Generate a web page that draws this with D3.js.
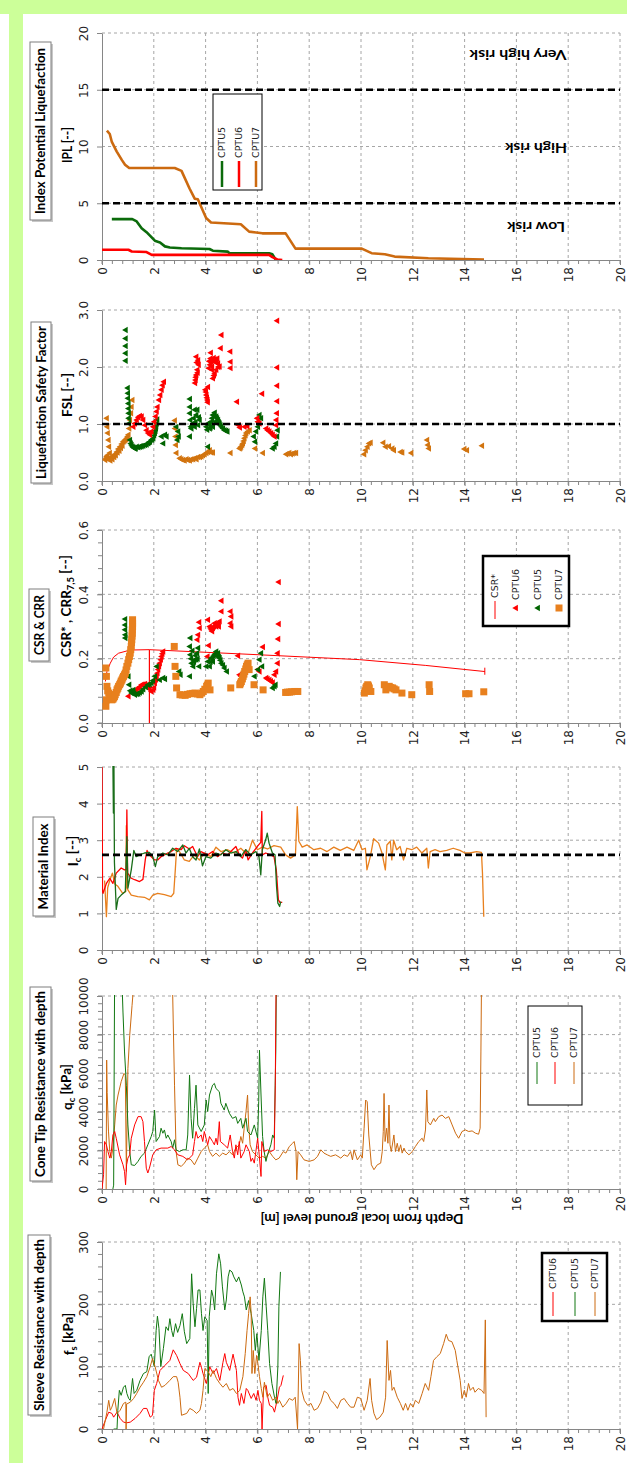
<!DOCTYPE html>
<html>
<head>
<meta charset="utf-8">
<script src="https://cdn.jsdelivr.net/npm/d3@7"></script>
<style>
body { margin: 0; background: #fff; }
svg { display: block; }
</style>
</head>
<body>
<svg id="chart" width="627" height="1467"></svg>
<script>
// depth axis shared by all six panels
const depthTicks = d3.range(0, 21, 2);

// ---- IPL (index potential liquefaction) ----
const iplTicks = [0, 5, 10, 15, 20];
const iplCptu5 = [[0.38,3.6],[1.17,3.6],[1.34,3.4],[1.53,2.8],[1.72,2.45],[2.04,1.7],[2.24,1.55],[2.43,1.2],[2.62,1.1],[3.07,1.03],[4.15,0.97],[4.28,0.82],[4.85,0.74],[4.92,0.6],[6.45,0.6],[6.58,0.5],[6.7,0.05]];
const iplCptu6 = [[0,0.9],[1.02,0.9],[1.15,0.75],[1.72,0.7],[1.92,0.45],[6.45,0.45],[6.58,0.25],[6.77,0.05],[6.96,0]];
const iplCptu7 = [[0.19,11.4],[0.3,11.1],[0.38,10.4],[0.57,9.55],[0.77,8.8],[0.89,8.4],[1.05,8.1],[2.81,8.1],[3.07,7.85],[3.38,6.3],[3.58,5.4],[3.7,5.35],[4.02,3.7],[4.21,3.3],[5.04,3.2],[5.36,3.15],[5.68,2.5],[6.19,2.35],[7.09,2.35],[7.47,1.0],[10.03,1.0],[10.41,0.6],[10.92,0.5],[11.3,0.3],[12.6,0.15],[14.75,0.05]];
const iplLimits = [5, 15];

// ---- FSL (safety factor) ----
const fslTicks = [0, 1, 2, 3];
const fslCptu5 = [[0.92,2.65],[0.92,2.5],[0.92,2.37],[0.92,2.24],[0.92,2.11],[1.0,1.63],[1.01,1.54],[1.01,1.45],[1.03,1.36],[1.03,1.27],[1.04,1.19],[1.04,1.1],[1.05,1.01],[1.09,0.72],[1.12,0.66],[1.15,0.63],[1.19,0.6],[1.22,0.59],[1.25,0.58],[1.28,0.57],[1.31,0.57],[1.35,0.6],[1.41,0.59],[1.47,0.6],[1.5,0.61],[1.54,0.61],[1.6,0.62],[1.67,0.63],[1.73,0.64],[1.79,0.66],[1.82,0.68],[1.86,0.69],[1.92,0.72],[1.95,0.73],[1.99,0.75],[2.02,0.8],[2.05,0.84],[2.07,0.88],[2.09,0.92],[2.1,0.96],[2.12,1.01],[2.14,1.08],[2.31,0.78],[2.37,0.66],[2.44,0.81],[2.5,0.78],[2.88,0.95],[2.95,0.87],[2.97,0.78],[2.92,0.72],[3.4,1.44],[3.4,1.3],[3.4,1.19],[3.42,1.07],[3.44,0.95],[3.4,0.78],[3.46,0.92],[3.5,0.98],[3.53,1.01],[3.55,1.1],[3.59,1.25],[3.59,0.95],[3.62,1.03],[3.65,1.16],[3.69,1.25],[3.72,0.98],[3.75,1.12],[3.78,1.07],[4.04,0.95],[4.07,0.9],[4.1,1.01],[4.1,0.6],[4.17,0.98],[4.17,0.92],[4.2,0.94],[4.23,1.04],[4.26,1.1],[4.29,1.16],[4.29,0.95],[4.33,1.15],[4.36,1.2],[4.38,1.04],[4.42,1.13],[4.45,1.1],[4.49,1.07],[4.52,1.03],[4.55,1.01],[4.58,0.98],[4.62,0.95],[4.68,0.92],[4.74,0.89],[4.8,0.88],[4.85,0.87],[5.87,0.78],[5.92,0.69],[5.96,0.87],[6.03,0.95],[6.05,1.04],[6.09,1.16],[6.15,1.1],[6.6,0.57],[6.67,0.6],[6.73,0.66],[6.77,0.78],[6.79,0.89]];
const fslCptu6 = [[1.22,0.95],[1.28,1.01],[1.35,1.07],[1.41,1.12],[1.47,1.14],[1.54,1.13],[1.6,1.07],[1.67,0.98],[1.73,0.89],[1.79,0.84],[1.86,0.81],[1.92,0.87],[1.99,0.95],[2.03,1.04],[2.08,1.13],[2.12,1.22],[2.15,1.3],[2.21,1.42],[2.26,1.51],[2.31,1.6],[2.35,1.68],[2.4,1.74],[3.65,2.18],[3.72,2.12],[3.74,2.04],[3.67,2.08],[3.69,1.95],[3.7,1.9],[3.65,1.86],[3.63,1.82],[3.62,1.77],[3.6,1.72],[4.0,1.6],[4.02,1.56],[4.04,1.51],[4.06,1.46],[4.08,1.42],[4.09,1.38],[4.1,1.65],[4.13,1.98],[4.15,2.1],[4.18,2.04],[4.2,2.15],[4.23,2.09],[4.25,1.95],[4.26,2.01],[4.29,2.12],[4.32,2.16],[4.33,1.85],[4.36,2.13],[4.4,2.08],[4.42,2.11],[4.46,2.15],[4.49,2.06],[4.5,2.0],[4.55,2.01],[4.42,1.95],[4.36,1.89],[4.29,1.8],[4.21,2.25],[4.59,2.33],[4.62,2.56],[4.96,2.27],[4.97,2.09],[4.97,1.98],[5.22,1.39],[5.28,0.98],[5.33,0.94],[5.51,0.95],[5.62,0.96],[6.19,1.53],[6.0,1.1],[6.03,1.04],[6.09,1.01],[6.35,0.92],[6.41,0.89],[6.47,0.87],[6.54,0.84],[6.6,0.81],[6.67,0.78],[6.77,2.81],[6.77,1.99],[6.77,1.67],[6.77,1.4],[6.76,1.19],[6.74,1.07],[6.73,0.98]];
const fslCptu7 = [[0.19,1.1],[0.21,0.95],[0.23,0.84],[0.26,0.72],[0.28,0.6],[0.31,0.49],[0.19,0.43],[0.13,0.37],[0.16,0.4],[0.22,0.45],[0.25,0.38],[0.33,0.36],[0.35,0.42],[0.38,0.4],[0.41,0.38],[0.45,0.43],[0.48,0.42],[0.51,0.47],[0.54,0.45],[0.58,0.51],[0.61,0.5],[0.64,0.56],[0.68,0.53],[0.71,0.6],[0.74,0.58],[0.77,0.65],[0.8,0.62],[0.83,0.69],[0.87,0.7],[0.9,0.72],[0.93,0.73],[0.96,0.75],[1.0,0.78],[1.03,0.81],[1.06,0.92],[1.09,1.07],[1.13,1.19],[1.15,1.3],[1.18,1.42],[2.82,1.06],[2.83,0.92],[2.85,0.78],[2.86,0.63],[2.88,0.49],[3.01,0.4],[3.07,0.38],[3.14,0.37],[3.2,0.36],[3.27,0.38],[3.33,0.37],[3.4,0.36],[3.46,0.38],[3.53,0.38],[3.6,0.4],[3.66,0.38],[3.72,0.42],[3.79,0.42],[3.85,0.43],[3.91,0.45],[3.97,0.47],[4.04,0.49],[4.1,0.51],[4.14,0.52],[4.17,0.54],[4.23,0.5],[4.29,0.5],[4.97,0.49],[5.32,0.57],[5.35,0.58],[5.38,0.6],[5.42,0.63],[5.45,0.66],[5.48,0.7],[5.51,0.75],[5.55,0.8],[5.58,0.84],[5.64,0.87],[5.71,0.89],[5.92,0.57],[6.22,0.49],[7.12,0.47],[7.18,0.48],[7.24,0.49],[7.3,0.47],[7.37,0.48],[7.43,0.49],[7.5,0.49],[10.13,0.47],[10.19,0.54],[10.26,0.6],[10.32,0.66],[10.38,0.67],[10.87,0.67],[10.96,0.6],[11.09,0.61],[11.22,0.57],[11.28,0.54],[11.54,0.51],[11.6,0.5],[11.95,0.49],[12.56,0.72],[12.59,0.63],[12.63,0.57],[14.0,0.56],[14.1,0.54],[14.68,0.62]];
const fslLimit = 1.0;

// ---- CSR & CRR ----
const csrTicks = [0, 0.2, 0.4, 0.6];
const csrStar = [[0.13,0.129],[0.19,0.16],[0.32,0.186],[0.45,0.205],[0.64,0.217],[0.96,0.224],[1.22,0.227],[1.83,0.228],[6.09,0.212],[9.94,0.197],[12.5,0.179],[14.78,0.16]];
const csrWaterTable = [[1.83,0],[1.83,0.228]];
const csrEnd = [[14.78,0.15],[14.78,0.172]];
const crrCptu6 = [[1.03,0.083],[1.28,0.098],[1.35,0.104],[1.41,0.109],[1.47,0.113],[1.54,0.119],[1.6,0.12],[1.67,0.121],[1.73,0.118],[1.79,0.114],[1.85,0.105],[1.92,0.098],[1.99,0.103],[2.02,0.11],[2.05,0.124],[2.09,0.135],[2.12,0.145],[2.15,0.155],[2.18,0.166],[2.21,0.176],[2.24,0.186],[2.28,0.197],[2.31,0.207],[2.34,0.215],[2.37,0.222],[3.76,0.313],[3.78,0.295],[3.72,0.274],[3.69,0.259],[4.1,0.321],[4.17,0.3],[4.2,0.295],[4.23,0.29],[4.26,0.285],[4.29,0.295],[4.33,0.3],[4.36,0.31],[4.4,0.305],[4.42,0.3],[4.46,0.31],[4.49,0.305],[4.52,0.3],[4.55,0.316],[4.62,0.347],[4.62,0.38],[4.13,0.241],[4.08,0.207],[4.97,0.347],[5.0,0.331],[4.97,0.31],[5.0,0.3],[5.26,0.209],[5.32,0.15],[5.38,0.145],[6.03,0.166],[6.09,0.16],[6.22,0.236],[6.35,0.14],[6.4,0.137],[6.47,0.134],[6.53,0.13],[6.6,0.126],[6.67,0.15],[6.73,0.16],[6.79,0.186],[6.83,0.438],[6.83,0.308],[6.81,0.261],[6.79,0.217]];
const crrCptu5 = [[0.9,0.323],[0.9,0.305],[0.9,0.29],[0.91,0.274],[0.91,0.264],[1.03,0.145],[1.06,0.119],[1.1,0.1],[1.15,0.093],[1.19,0.095],[1.22,0.103],[1.25,0.092],[1.28,0.088],[1.35,0.09],[1.41,0.091],[1.47,0.095],[1.54,0.098],[1.6,0.105],[1.7,0.112],[1.79,0.119],[1.85,0.12],[1.92,0.124],[1.98,0.132],[2.05,0.145],[2.12,0.176],[2.24,0.134],[2.37,0.14],[2.44,0.137],[2.99,0.16],[3.04,0.15],[3.42,0.264],[3.4,0.238],[3.42,0.212],[3.45,0.2],[3.47,0.186],[3.5,0.225],[3.53,0.176],[3.56,0.19],[3.59,0.197],[3.62,0.21],[3.65,0.197],[3.68,0.217],[3.7,0.2],[3.72,0.233],[3.76,0.176],[3.4,0.145],[4.04,0.176],[4.1,0.191],[4.17,0.176],[4.2,0.19],[4.23,0.202],[4.26,0.2],[4.29,0.191],[4.32,0.208],[4.36,0.212],[4.39,0.215],[4.42,0.222],[4.46,0.21],[4.49,0.217],[4.52,0.205],[4.55,0.202],[4.58,0.195],[4.62,0.186],[4.68,0.18],[4.74,0.171],[4.83,0.16],[5.9,0.145],[6.03,0.166],[6.09,0.197],[6.15,0.217],[6.19,0.176],[6.6,0.109],[6.67,0.114],[6.71,0.119]];
const crrCptu7 = [[0.15,0.052],[0.17,0.072],[0.19,0.114],[0.17,0.145],[0.15,0.171],[0.22,0.1],[0.26,0.093],[0.3,0.088],[0.32,0.083],[0.35,0.078],[0.38,0.072],[0.42,0.074],[0.45,0.078],[0.48,0.082],[0.51,0.088],[0.55,0.095],[0.58,0.103],[0.61,0.108],[0.64,0.114],[0.68,0.119],[0.71,0.124],[0.74,0.13],[0.77,0.134],[0.8,0.14],[0.83,0.145],[0.87,0.15],[0.9,0.155],[0.93,0.165],[0.96,0.176],[1.0,0.186],[1.03,0.197],[1.06,0.207],[1.09,0.217],[1.11,0.228],[1.13,0.238],[1.14,0.25],[1.15,0.259],[1.16,0.27],[1.17,0.279],[1.17,0.29],[1.18,0.3],[1.18,0.31],[1.18,0.321],[2.79,0.238],[2.82,0.176],[2.85,0.145],[2.88,0.109],[3.01,0.088],[3.1,0.087],[3.21,0.086],[3.3,0.089],[3.4,0.091],[3.5,0.092],[3.59,0.093],[3.68,0.09],[3.78,0.088],[3.85,0.093],[3.91,0.098],[3.97,0.105],[4.04,0.114],[4.07,0.118],[4.1,0.124],[4.17,0.103],[4.97,0.109],[5.32,0.119],[5.35,0.124],[5.38,0.129],[5.42,0.137],[5.45,0.145],[5.48,0.152],[5.51,0.16],[5.55,0.168],[5.58,0.176],[5.61,0.181],[5.64,0.186],[5.68,0.166],[5.87,0.119],[6.22,0.103],[7.09,0.095],[7.16,0.096],[7.24,0.096],[7.32,0.097],[7.44,0.098],[7.56,0.098],[10.13,0.093],[10.16,0.1],[10.19,0.109],[10.22,0.114],[10.26,0.119],[10.29,0.115],[10.32,0.109],[10.38,0.098],[10.9,0.119],[10.96,0.103],[11.0,0.11],[11.09,0.114],[11.15,0.11],[11.22,0.109],[11.28,0.106],[11.35,0.103],[11.58,0.093],[11.96,0.088],[12.63,0.119],[12.65,0.098],[14.04,0.091],[14.17,0.091],[14.74,0.097]];

// ---- Ic (material index) ----
const icTicks = [0, 1, 2, 3, 4, 5];
const icCptu6 = [[0,5.0],[0.02,1.6],[0.04,1.55],[0.17,1.82],[0.3,1.96],[0.42,1.82],[0.55,2.1],[0.74,2.24],[0.87,2.19],[0.94,2.2],[0.96,3.83],[0.99,2.1],[1.13,1.96],[1.26,1.92],[1.45,1.87],[1.58,1.93],[1.67,2.46],[1.74,2.72],[1.83,2.6],[2.03,2.46],[2.15,2.46],[2.28,2.55],[2.41,2.6],[2.54,2.65],[2.67,2.69],[2.86,2.78],[3.05,2.74],[3.18,2.85],[3.37,2.76],[3.5,2.83],[3.69,2.55],[3.82,2.69],[4.08,2.6],[4.27,2.69],[4.46,2.55],[4.65,2.65],[4.85,2.6],[5.04,2.74],[5.17,2.83],[5.3,2.6],[5.42,2.51],[5.55,2.74],[5.64,2.46],[5.81,2.65],[6.0,2.83],[6.13,2.94],[6.17,3.79],[6.19,2.6],[6.32,2.65],[6.51,2.6],[6.64,2.55],[6.73,2.19],[6.81,1.37],[6.87,1.3],[6.96,1.3]];
const icCptu5 = [[0.42,5.2],[0.44,3.74],[0.46,5.2],[0.48,2.4],[0.55,1.11],[0.62,1.41],[0.74,1.5],[0.9,1.6],[0.96,3.1],[1.0,1.69],[1.13,2.19],[1.23,2.72],[1.32,2.55],[1.45,2.6],[1.64,2.65],[1.83,2.67],[1.96,2.55],[2.06,2.28],[2.15,2.55],[2.35,2.65],[2.54,2.6],[2.73,2.78],[2.92,2.69],[3.12,2.87],[3.24,2.65],[3.37,2.78],[3.5,2.55],[3.63,2.46],[3.76,2.76],[3.88,2.3],[4.01,2.55],[4.2,2.51],[4.4,2.65],[4.59,2.6],[4.78,2.74],[4.97,2.65],[5.17,2.69],[5.36,2.55],[5.55,2.74],[5.74,2.6],[5.94,2.69],[6.06,2.55],[6.13,2.05],[6.19,2.74],[6.32,3.01],[6.38,3.19],[6.45,2.92],[6.58,2.65],[6.68,2.6],[6.74,1.73],[6.79,1.28],[6.86,1.19],[6.9,1.32]];
const icCptu7 = [[0.1,1.9],[0.17,0.91],[0.22,1.7],[0.3,1.9],[0.4,2.1],[0.5,1.8],[0.6,1.75],[0.8,1.55],[0.92,1.6],[0.94,3.4],[0.97,1.7],[1.0,1.64],[1.13,1.5],[1.38,1.46],[1.64,1.44],[1.83,1.37],[1.96,1.5],[2.15,1.55],[2.41,1.51],[2.67,1.46],[2.77,1.55],[2.83,2.19],[2.88,2.76],[2.99,2.69],[3.18,2.46],[3.37,2.42],[3.56,2.6],[3.76,2.46],[3.95,2.65],[4.2,2.55],[4.4,2.81],[4.59,2.69],[4.85,2.74],[5.1,2.65],[5.36,2.78],[5.62,2.6],[5.81,3.0],[6.0,2.74],[6.19,2.81],[6.39,2.76],[6.64,2.85],[6.9,2.81],[7.09,2.6],[7.28,2.51],[7.47,2.6],[7.54,3.92],[7.6,2.97],[7.73,2.81],[7.92,2.87],[8.18,2.74],[8.44,2.78],[8.69,2.69],[8.95,2.81],[9.2,2.72],[9.46,2.81],[9.72,2.72],[9.91,3.0],[10.04,2.74],[10.17,2.78],[10.23,2.19],[10.36,2.55],[10.49,3.04],[10.68,2.92],[10.81,2.65],[10.94,2.19],[11.0,2.87],[11.13,2.97],[11.19,2.46],[11.26,3.0],[11.38,2.74],[11.51,2.83],[11.64,2.46],[11.77,2.78],[11.96,2.74],[12.15,2.81],[12.35,2.65],[12.54,2.78],[12.6,2.24],[12.67,2.69],[12.86,2.74],[13.05,2.69],[13.31,2.72],[13.56,2.78],[13.82,2.72],[14.01,2.65],[14.2,2.65],[14.46,2.69],[14.65,2.67],[14.69,2.1],[14.74,0.91]];
const icLimit = 2.6;

// ---- qc (cone tip resistance, kPa) ----
const qcTicks = [0, 2000, 4000, 6000, 8000, 10000];
const qcCptu5 = [[0.42,0],[0.45,200],[0.49,12000],[0.74,12000],[0.81,9170],[0.87,7100],[0.94,5380],[1.0,3320],[1.07,1940],[1.13,1255],[1.26,1220],[1.39,1430],[1.51,1690],[1.64,1860],[1.77,2290],[1.9,2720],[1.96,2980],[2.03,4090],[2.09,2460],[2.22,2720],[2.28,3150],[2.35,2890],[2.41,3060],[2.48,2630],[2.54,2800],[2.67,2460],[2.73,2120],[2.8,2550],[2.86,2030],[2.99,1940],[3.12,2030],[3.25,2030],[3.31,2800],[3.38,5900],[3.44,3660],[3.5,2630],[3.57,4180],[3.63,5380],[3.7,3320],[3.83,2980],[3.95,3320],[4.02,4610],[4.08,4010],[4.15,4870],[4.27,5380],[4.34,5470],[4.4,5210],[4.53,5040],[4.59,4440],[4.72,4090],[4.78,4440],[4.92,3920],[5.04,3660],[5.17,3750],[5.24,3400],[5.36,3660],[5.43,3150],[5.56,3660],[5.62,2980],[5.75,2800],[5.88,3320],[6.01,2630],[6.05,4520],[6.08,7190],[6.14,4870],[6.2,2720],[6.26,1940],[6.33,1430],[6.39,1770],[6.52,2290],[6.59,2800],[6.65,2630],[6.71,7100],[6.74,12000]];
const qcCptu6 = [[0,0],[0.06,740],[0.1,2460],[0.17,2290],[0.23,1940],[0.3,1600],[0.36,1940],[0.42,2800],[0.49,2980],[0.55,2630],[0.68,1770],[0.81,1255],[0.87,900],[0.91,220],[0.95,1255],[1.0,1600],[1.07,1770],[1.13,2630],[1.26,3320],[1.39,3750],[1.51,3750],[1.58,3490],[1.64,2460],[1.71,1080],[1.77,830],[1.83,1080],[1.96,1770],[2.09,2030],[2.28,2120],[2.54,2120],[2.67,2200],[2.8,2030],[2.93,1770],[3.12,1690],[3.31,1510],[3.5,1770],[3.57,2460],[3.63,2980],[3.7,2630],[3.83,2800],[3.89,2460],[3.95,2980],[4.08,2290],[4.15,2720],[4.27,2460],[4.34,2290],[4.4,2630],[4.46,2290],[4.53,3490],[4.57,2460],[4.72,2290],[4.85,2120],[4.95,2800],[5.04,1940],[5.11,1600],[5.17,2290],[5.24,1770],[5.3,2460],[5.36,1600],[5.49,1940],[5.56,2290],[5.69,1940],[5.75,1430],[5.81,1600],[5.88,1340],[5.94,1940],[6.01,2630],[6.07,1770],[6.14,650],[6.17,2460],[6.26,1940],[6.39,2030],[6.52,1940],[6.65,2030],[6.69,5380],[6.73,12000]];
const qcCptu7 = [[0.16,0],[0.18,6680],[0.2,5000],[0.25,3000],[0.3,1940],[0.36,1600],[0.42,2120],[0.49,3320],[0.55,4350],[0.62,4870],[0.74,5560],[0.85,5990],[0.9,5900],[0.94,910],[0.97,3660],[1.0,6240],[1.07,7960],[1.16,9500],[1.22,10500],[1.3,12000],[2.7,12000],[2.73,10000],[2.8,5380],[2.86,1940],[2.93,1255],[3.06,1170],[3.18,1340],[3.31,1600],[3.44,1510],[3.57,1255],[3.7,1600],[3.83,1940],[3.95,2120],[4.08,2290],[4.15,1940],[4.27,1690],[4.4,1860],[4.53,1690],[4.66,1860],[4.79,1770],[4.92,1940],[5.04,1770],[5.17,2120],[5.3,2290],[5.36,2720],[5.43,2370],[5.49,3150],[5.56,4010],[5.62,4870],[5.66,3320],[5.72,2290],[5.81,1940],[5.94,1770],[6.07,1600],[6.2,1690],[6.33,1600],[6.46,1940],[6.59,1690],[6.71,1510],[6.84,1600],[7.0,1940],[7.1,1860],[7.23,2200],[7.36,2370],[7.42,2460],[7.49,1940],[7.52,480],[7.57,1940],[7.67,1770],[7.8,1510],[8.0,1430],[8.19,1510],[8.32,1690],[8.45,2030],[8.57,1860],[8.7,1770],[8.83,1690],[9.02,1770],[9.22,1600],[9.35,1770],[9.48,1690],[9.6,1940],[9.67,1510],[9.73,2030],[9.86,1510],[9.99,1770],[10.05,1600],[10.12,3150],[10.18,4610],[10.24,4520],[10.3,2800],[10.4,1255],[10.5,1000],[10.63,1255],[10.76,1340],[10.82,1940],[10.86,2980],[10.89,4950],[10.93,2460],[10.99,3150],[11.04,2370],[11.08,4350],[11.12,2290],[11.17,1940],[11.27,2800],[11.33,1940],[11.4,2370],[11.46,1940],[11.53,2290],[11.59,1860],[11.66,2120],[11.72,1940],[11.85,1770],[11.98,1940],[12.1,2200],[12.23,2460],[12.36,2630],[12.42,2460],[12.49,3060],[12.54,5130],[12.58,3490],[12.68,3320],[12.81,3660],[12.87,3490],[13.0,3750],[13.13,3830],[13.26,3660],[13.39,3750],[13.52,3320],[13.65,2890],[13.77,2630],[13.9,2980],[14.03,3060],[14.16,2980],[14.29,3010],[14.42,2890],[14.54,2840],[14.6,3150],[14.63,7100],[14.66,12000]];

// ---- fs (sleeve resistance, kPa) ----
const fsTicks = [0, 100, 200, 300];
const fsCptu6 = [[0,0],[0.13,14],[0.26,27],[0.38,25],[0.45,19],[0.58,27],[0.7,17],[0.83,11],[0.96,10],[1.09,11],[1.28,17],[1.47,25],[1.6,33],[1.73,33],[1.86,19],[1.95,22],[2.02,62],[2.11,73],[2.24,94],[2.43,102],[2.62,110],[2.75,127],[2.88,118],[3.01,105],[3.14,94],[3.33,89],[3.52,78],[3.65,83],[3.78,107],[3.84,99],[3.9,89],[4.03,73],[4.16,100],[4.29,89],[4.42,97],[4.55,78],[4.67,107],[4.74,121],[4.8,107],[4.93,94],[5.06,120],[5.19,94],[5.25,51],[5.31,38],[5.38,57],[5.48,41],[5.57,65],[5.63,62],[5.76,49],[5.86,57],[5.95,46],[6.02,62],[6.08,46],[6.15,41],[6.18,0],[6.24,67],[6.34,70],[6.4,51],[6.47,38],[6.59,35],[6.66,27],[6.76,46],[6.85,67],[6.91,70],[7.0,86]];
const fsCptu5 = [[0.45,0],[0.58,0],[0.61,30],[0.67,62],[0.74,54],[0.83,67],[0.9,70],[0.96,57],[1.03,49],[1.09,46],[1.18,81],[1.24,57],[1.34,62],[1.47,78],[1.6,89],[1.73,92],[1.82,116],[1.9,120],[1.96,110],[2.02,100],[2.09,158],[2.14,181],[2.2,161],[2.27,100],[2.37,129],[2.47,164],[2.56,158],[2.62,177],[2.69,158],[2.75,148],[2.84,169],[2.92,155],[3.01,166],[3.1,185],[3.18,156],[3.27,137],[3.39,145],[3.46,249],[3.52,201],[3.59,164],[3.65,193],[3.71,223],[3.78,223],[3.84,185],[3.9,158],[3.97,180],[4.06,174],[4.1,57],[4.14,180],[4.23,223],[4.29,212],[4.35,191],[4.42,249],[4.51,281],[4.58,265],[4.65,228],[4.74,191],[4.8,207],[4.87,244],[4.93,255],[5.02,252],[5.09,244],[5.19,236],[5.28,244],[5.38,231],[5.44,220],[5.5,212],[5.57,191],[5.66,206],[5.76,185],[5.86,158],[5.92,126],[5.98,153],[6.06,110],[6.15,158],[6.21,212],[6.27,242],[6.34,196],[6.4,158],[6.47,105],[6.56,73],[6.66,51],[6.72,41],[6.79,100],[6.83,196],[6.89,252]];
const fsCptu7 = [[0.06,0],[0.19,27],[0.26,46],[0.32,30],[0.38,35],[0.49,49],[0.58,25],[0.7,30],[0.83,41],[0.92,43],[0.93,0],[0.95,40],[1.09,43],[1.22,49],[1.34,57],[1.47,67],[1.6,75],[1.73,84],[1.86,100],[1.95,113],[2.05,100],[2.18,78],[2.3,67],[2.43,70],[2.62,78],[2.75,84],[2.88,84],[2.94,75],[3.01,51],[3.07,22],[3.27,25],[3.39,33],[3.52,30],[3.65,25],[3.78,30],[3.84,41],[3.9,62],[3.97,97],[4.1,92],[4.2,84],[4.29,94],[4.42,81],[4.55,73],[4.67,67],[4.8,73],[4.93,62],[5.06,65],[5.19,57],[5.32,62],[5.44,84],[5.53,121],[5.6,158],[5.66,185],[5.72,212],[5.76,185],[5.79,89],[5.84,126],[5.9,89],[5.97,118],[6.02,105],[6.08,84],[6.15,65],[6.21,51],[6.27,75],[6.38,51],[6.47,57],[6.59,46],[6.72,51],[6.79,41],[6.85,46],[6.98,35],[7.11,41],[7.23,49],[7.36,46],[7.46,51],[7.55,0],[7.61,137],[7.66,110],[7.71,62],[7.81,46],[7.94,38],[8.07,41],[8.19,30],[8.32,33],[8.45,43],[8.58,61],[8.71,57],[8.83,46],[8.96,41],[9.09,33],[9.22,46],[9.35,49],[9.48,41],[9.6,35],[9.73,35],[9.86,51],[9.99,49],[10.12,30],[10.24,46],[10.35,81],[10.41,46],[10.5,25],[10.6,15],[10.73,19],[10.86,27],[10.95,51],[11.01,142],[11.08,78],[11.14,94],[11.2,62],[11.27,67],[11.4,51],[11.52,41],[11.63,30],[11.72,41],[11.81,30],[11.91,41],[12.01,35],[12.1,46],[12.23,41],[12.36,57],[12.48,73],[12.55,67],[12.61,62],[12.7,84],[12.8,110],[12.93,116],[13.06,121],[13.19,137],[13.29,152],[13.38,142],[13.51,140],[13.64,126],[13.7,110],[13.83,78],[13.9,49],[13.99,62],[14.06,51],[14.15,73],[14.22,62],[14.33,67],[14.4,59],[14.53,65],[14.66,62],[14.75,57],[14.8,175],[14.83,19]];

// ------------------------------------------------------------------
const svg = d3.select("#chart");
const X0 = 102, X1 = 620;
const axisGray = "#868686", gridGray = "#a6a6a6";
const cGreen = "#0b6b0b", cRed = "#ff0000", cOrange = "#cc6a10", cOrangeB = "#e8801e";
const tickFont = "DejaVu Sans, Verdana, sans-serif";
const boldFont = "Lato, 'Open Sans', sans-serif";

// page background: green frame on top and at the left
svg.append("rect").attr("x", 0).attr("y", 0).attr("width", 627).attr("height", 1467).attr("fill", "#fff");
svg.append("rect").attr("x", 0).attr("y", 0).attr("width", 627).attr("height", 14).attr("fill", "#ccff99");
svg.append("rect").attr("x", 9).attr("y", 0).attr("width", 14).attr("height", 1463).attr("fill", "#ccff99");

let clipId = 0;
function panel(cfg) {
  const g = svg.append("g");
  const x = d3.scaleLinear().domain([0, 20]).range([X0, X1]);
  const y = d3.scaleLinear().domain(cfg.domain).range([cfg.bottom, cfg.top]);
  const id = "clip" + (clipId++);
  svg.append("clipPath").attr("id", id).append("rect")
    .attr("x", X0).attr("y", cfg.top - 1).attr("width", X1 - X0 + 2).attr("height", cfg.bottom - cfg.top + 1);

  // dashed grid
  g.append("g").selectAll("line").data(depthTicks.filter(d => d > 0)).join("line")
    .attr("x1", d => x(d)).attr("x2", d => x(d)).attr("y1", cfg.top).attr("y2", cfg.bottom)
    .attr("stroke", gridGray).attr("stroke-dasharray", "3,3");
  g.append("g").selectAll("line").data(cfg.ticks.filter(d => d > cfg.domain[0])).join("line")
    .attr("x1", X0).attr("x2", X1).attr("y1", d => y(d)).attr("y2", d => y(d))
    .attr("stroke", gridGray).attr("stroke-dasharray", "3,3");

  // minor ticks on the depth axis
  g.append("g").selectAll("line").data(d3.range(0, 20.01, 0.4)).join("line")
    .attr("x1", d => x(d)).attr("x2", d => x(d)).attr("y1", cfg.bottom).attr("y2", cfg.bottom + 4)
    .attr("stroke", axisGray);
  if (cfg.minorY) {
    g.append("g").selectAll("line").data(d3.range(cfg.domain[0], cfg.domain[1] * 1.0001, cfg.minorY)).join("line")
      .attr("x1", X0 - 4).attr("x2", X0).attr("y1", d => y(d)).attr("y2", d => y(d))
      .attr("stroke", axisGray);
  }

  const ax = g.append("g").attr("transform", `translate(0,${cfg.bottom})`)
    .call(d3.axisBottom(x).tickValues(depthTicks).tickSize(5).tickSizeOuter(0));
  ax.select(".domain").attr("stroke", axisGray);
  ax.selectAll(".tick line").attr("stroke", axisGray);
  ax.selectAll("text").attr("transform", "rotate(-90)").attr("x", -7).attr("y", 0).attr("dy", "0.36em")
    .attr("text-anchor", "end").attr("fill", "#222").style("font", `12px ${tickFont}`);

  const ay = g.append("g").attr("transform", `translate(${X0},0)`)
    .call(d3.axisLeft(y).tickValues(cfg.ticks).tickFormat(cfg.fmt).tickSize(5).tickSizeOuter(0));
  ay.select(".domain").attr("stroke", axisGray);
  ay.selectAll(".tick line").attr("stroke", axisGray);
  ay.selectAll("text").attr("x", 0).attr("y", 0).attr("dy", 0).attr("transform", "translate(-14,0) rotate(-90)")
    .attr("text-anchor", "middle").attr("fill", "#222").style("font", `12px ${tickFont}`);

  const plot = g.append("g").attr("clip-path", `url(#${id})`);
  return { g, x, y, plot };
}

function drawLine(p, data, color, width) {
  p.plot.append("path").datum(data)
    .attr("d", d3.line().x(d => p.x(d[0])).y(d => p.y(d[1])))
    .attr("fill", "none").attr("stroke", color).attr("stroke-width", width).attr("stroke-linejoin", "round");
}
function limitLine(p, v) {
  p.g.append("line").attr("x1", X0).attr("x2", X1).attr("y1", p.y(v)).attr("y2", p.y(v))
    .attr("stroke", "#000").attr("stroke-width", 2.6).attr("stroke-dasharray", "7,4");
}
function triangles(p, data, color) {
  p.plot.append("g").selectAll("path").data(data).join("path")
    .attr("d", d3.symbol(d3.symbolTriangle, 18))
    .attr("transform", d => `translate(${p.x(d[0])},${p.y(d[1])}) rotate(-90)`)
    .attr("fill", color);
}
function squares(p, data, color) {
  p.plot.append("g").selectAll("rect").data(data).join("rect")
    .attr("x", d => p.x(d[0]) - 3.5).attr("y", d => p.y(d[1]) - 3.5)
    .attr("width", 7).attr("height", 7).attr("fill", color);
}
function rtext(x, y, str, opts) {
  const t = svg.append("text").attr("transform", `translate(${x},${y}) rotate(${opts.angle ?? -90})`)
    .attr("text-anchor", opts.anchor || "middle").attr("dy", opts.dy ?? "0.35em")
    .style("font", opts.font).attr("fill", opts.fill || "#000");
  if (opts.len) t.attr("textLength", opts.len).attr("lengthAdjust", "spacingAndGlyphs");
  t.text(str);
  return t;
}
function titleBox(x0, y0, x1, y1, str, len) {
  svg.append("rect").attr("x", x0 + 2).attr("y", y0 + 2).attr("width", x1 - x0).attr("height", y1 - y0).attr("fill", "#c8c8c8");
  svg.append("rect").attr("x", x0).attr("y", y0).attr("width", x1 - x0).attr("height", y1 - y0)
    .attr("fill", "#fff").attr("stroke", "#7f7f7f").attr("stroke-width", 1);
  rtext((x0 + x1) / 2, (y0 + y1) / 2, str, { font: `bold 13.5px ${boldFont}`, len });
}
function legend(x0, y0, x1, y1, items, border) {
  svg.append("rect").attr("x", x0).attr("y", y0).attr("width", x1 - x0).attr("height", y1 - y0)
    .attr("fill", "#fff").attr("stroke", "#000").attr("stroke-width", border);
  items.forEach(it => {
    if (it.kind === "line") {
      svg.append("line").attr("x1", it.x).attr("x2", it.x).attr("y1", it.y1).attr("y2", it.y2)
        .attr("stroke", it.color).attr("stroke-width", it.w);
    } else if (it.kind === "tri") {
      svg.append("path").attr("d", d3.symbol(d3.symbolTriangle, 18)).attr("transform", `translate(${it.x},${it.my}) rotate(-90)`).attr("fill", it.color);
    } else {
      svg.append("rect").attr("x", it.x - 3.5).attr("y", it.my - 3.5).attr("width", 7).attr("height", 7).attr("fill", it.color);
    }
    rtext(it.x, it.ty, it.label, { font: `9.5px ${tickFont}`, anchor: "start", fill: "#222" });
  });
}

// ---- panel 1: IPL ----
const p1 = panel({ domain: [0, 20], top: 33, bottom: 260, ticks: iplTicks, fmt: d3.format("d") });
iplLimits.forEach(v => limitLine(p1, v));
drawLine(p1, iplCptu7, cOrange, 2.6);
drawLine(p1, iplCptu5, cGreen, 2.6);
drawLine(p1, iplCptu6, cRed, 2.6);
rtext(518, 55, "Very high risk", { angle: 180, font: `bold 14px ${boldFont}`, len: 97 });
rtext(536, 148, "High risk", { angle: 180, font: `bold 14px ${boldFont}`, len: 62 });
rtext(536, 227, "Low risk", { angle: 180, font: `bold 14px ${boldFont}`, len: 58 });
legend(213, 94, 262, 190, [
  { kind: "line", x: 222, y1: 187, y2: 161, color: cGreen, w: 2.5, ty: 158, label: "CPTU5" },
  { kind: "line", x: 239, y1: 187, y2: 161, color: cRed, w: 2.5, ty: 158, label: "CPTU6" },
  { kind: "line", x: 256, y1: 187, y2: 161, color: cOrange, w: 2.5, ty: 158, label: "CPTU7" }
], 1);
titleBox(30, 42, 51, 220, "Index Potential Liquefaction", 166);
rtext(67, 145, "IPL  [--]", { font: `bold 13.5px ${boldFont}`, len: 36 });

// ---- panel 2: FSL ----
const p2 = panel({ domain: [0, 3], top: 310, bottom: 481, ticks: fslTicks, fmt: d3.format(".1f") });
limitLine(p2, fslLimit);
triangles(p2, fslCptu7, "#d2740f");
triangles(p2, fslCptu5, "#006400");
triangles(p2, fslCptu6, cRed);
titleBox(31, 322, 51, 483, "Liquefaction Safety Factor", 153);
rtext(67, 395, "FSL  [--]", { font: `bold 13.5px ${boldFont}`, len: 44 });

// ---- panel 3: CSR & CRR ----
const p3 = panel({ domain: [0, 0.6], top: 530, bottom: 723, ticks: csrTicks, fmt: d3.format(".1f"), minorY: 0.04 });
drawLine(p3, csrStar, cRed, 1);
drawLine(p3, csrWaterTable, cRed, 1.2);
drawLine(p3, csrEnd, cRed, 1);
triangles(p3, crrCptu6, cRed);
triangles(p3, crrCptu5, "#006400");
squares(p3, crrCptu7, cOrangeB);
legend(483, 556, 569, 626, [
  { kind: "line", x: 495, y1: 619, y2: 601, color: cRed, w: 1, ty: 598, label: "CSR*" },
  { kind: "tri", x: 516, my: 608, color: cRed, ty: 600, label: "CPTU6" },
  { kind: "tri", x: 538, my: 608, color: "#006400", ty: 600, label: "CPTU5" },
  { kind: "sq", x: 559, my: 608, color: cOrangeB, ty: 600, label: "CPTU7" }
], 2.5);
titleBox(29, 589, 49, 661, "CSR & CRR", 60);
const csrLab = rtext(66, 606, "", { font: `bold 13.5px ${boldFont}` });
csrLab.append("tspan").text("CSR* ,  CRR");
csrLab.append("tspan").attr("dy", "0.3em").style("font-size", "9.5px").text("7,5");
csrLab.append("tspan").attr("dy", "-0.3em").text(" [--]");

// ---- panel 4: Ic ----
const p4 = panel({ domain: [0, 5], top: 767, bottom: 950, ticks: icTicks, fmt: d3.format("d") });
drawLine(p4, icCptu7, cOrangeB, 1.3);
drawLine(p4, icCptu6, cRed, 1.3);
drawLine(p4, icCptu5, "#1a6e1a", 1.3);
limitLine(p4, icLimit);
titleBox(33, 817, 54, 916, "Material Index", 86);
const icLab = rtext(73, 851, "", { font: `bold 13.5px ${boldFont}` });
icLab.append("tspan").text("I");
icLab.append("tspan").attr("dy", "0.3em").style("font-size", "9.5px").text("c");
icLab.append("tspan").attr("dy", "-0.3em").text("  [--]");

// ---- panel 5: qc ----
const p5 = panel({ domain: [0, 10000], top: 996, bottom: 1189, ticks: qcTicks, fmt: d3.format("d"), minorY: 400 });
drawLine(p5, qcCptu7, cOrange, 1);
drawLine(p5, qcCptu5, "#117711", 1);
drawLine(p5, qcCptu6, cRed, 1);
legend(528, 1006, 582, 1105, [
  { kind: "line", x: 537, y1: 1084, y2: 1062, color: "#117711", w: 1, ty: 1058, label: "CPTU5" },
  { kind: "line", x: 555, y1: 1084, y2: 1062, color: cRed, w: 1, ty: 1058, label: "CPTU6" },
  { kind: "line", x: 574, y1: 1084, y2: 1062, color: cOrange, w: 1, ty: 1058, label: "CPTU7" }
], 1);
titleBox(30, 987, 51, 1181, "Cone Tip Resistance with depth", 186);
const qcLab = rtext(67, 1087, "", { font: `bold 13.5px ${boldFont}` });
qcLab.append("tspan").text("q");
qcLab.append("tspan").attr("dy", "0.3em").style("font-size", "9.5px").text("c");
qcLab.append("tspan").attr("dy", "-0.3em").text(" [kPa]");
rtext(362, 1219, "Depth from local ground level [m]", { angle: 180, font: `bold 13px ${boldFont}`, len: 203 });

// ---- panel 6: fs ----
const p6 = panel({ domain: [0, 300], top: 1242, bottom: 1429, ticks: fsTicks, fmt: d3.format("d"), minorY: 20 });
drawLine(p6, fsCptu6, cRed, 1);
drawLine(p6, fsCptu5, "#117711", 1);
drawLine(p6, fsCptu7, cOrange, 1);
legend(542, 1253, 607, 1321, [
  { kind: "line", x: 553, y1: 1316, y2: 1292, color: cRed, w: 1, ty: 1289, label: "CPTU6" },
  { kind: "line", x: 575, y1: 1316, y2: 1292, color: "#117711", w: 1, ty: 1289, label: "CPTU5" },
  { kind: "line", x: 595, y1: 1316, y2: 1292, color: cOrange, w: 1, ty: 1289, label: "CPTU7" }
], 2.5);
titleBox(28, 1235, 50, 1415, "Sleeve Resistance with depth", 172);
const fsLab = rtext(69, 1334, "", { font: `bold 13.5px ${boldFont}` });
fsLab.append("tspan").text("f");
fsLab.append("tspan").attr("dy", "0.3em").style("font-size", "9.5px").text("s");
fsLab.append("tspan").attr("dy", "-0.3em").text(" [kPa]");
</script>
</body>
</html>
